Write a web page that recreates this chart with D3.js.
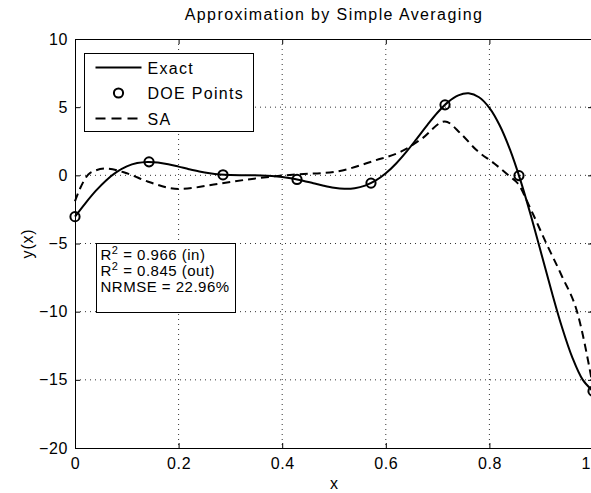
<!DOCTYPE html>
<html>
<head>
<meta charset="utf-8">
<script src="https://cdn.jsdelivr.net/npm/d3@7"></script>
<style>
  body { margin: 0; background: #fff; }
  text { font-family: "Liberation Sans", Arial, Helvetica, sans-serif; fill: #000; }
</style>
</head>
<body>
<div id="root"></div>
<script>
// Exact function samples
var exactX = [0, 0.02, 0.04, 0.06, 0.08, 0.10, 0.12, 0.14, 0.16, 0.18, 0.20, 0.22, 0.24, 0.26, 0.28, 0.30,
  0.32, 0.34, 0.36, 0.38, 0.40, 0.42, 0.44, 0.46, 0.48, 0.50, 0.52, 0.54, 0.56, 0.58, 0.60, 0.62, 0.64,
  0.66, 0.68, 0.70, 0.72, 0.74, 0.76, 0.78, 0.80, 0.82, 0.84, 0.86, 0.88, 0.90, 0.92, 0.94, 0.96, 0.98, 1.00];
var exactY = [-3.027, -2.049, -1.144, -0.371, 0.234, 0.657, 0.900, 0.985, 0.944, 0.816, 0.640, 0.452, 0.282,
  0.149, 0.061, 0.016, 0.001, 0.000, -0.008, -0.042, -0.115, -0.233, -0.392, -0.577, -0.761, -0.909, -0.984,
  -0.945, -0.757, -0.396, 0.149, 0.870, 1.736, 2.698, 3.682, 4.606, 5.369, 5.870, 6.016, 5.728, 4.949, 3.656,
  1.865, -0.367, -2.940, -5.712, -8.506, -11.126, -13.354, -14.987, -15.830];

// DOE sample points
var doeX = [0, 0.1429, 0.2857, 0.4286, 0.5714, 0.7143, 0.8571, 1.0];
var doeY = [-3.03, 0.99, 0.04, -0.30, -0.57, 5.17, -0.02, -15.83];

// Simple averaging surrogate
var saX = [0, 0.01, 0.03, 0.06, 0.10, 0.14, 0.20, 0.28, 0.35, 0.42, 0.50, 0.58, 0.63, 0.67, 0.714,
  0.745, 0.775, 0.81, 0.84, 0.855, 0.88, 0.91, 0.94, 0.97, 1.0];
var saY = [-1.9, -0.95, 0.2, 0.5, 0.15, -0.45, -1.0, -0.6, -0.22, 0.05, 0.25, 1.1, 1.75, 2.7, 3.95,
  3.05, 1.85, 0.85, -0.1, -0.6, -2.5, -5.0, -7.4, -10.1, -15.5];

var xTicks = [0, 0.2, 0.4, 0.6, 0.8, 1];
var yTicks = [10, 5, 0, -5, -10, -15, -20];
var legendLabels = ["Exact", "DOE Points", "SA"];
var stats = [["R", "2", " = 0.966 (in)"], ["R", "2", " = 0.845 (out)"], ["NRMSE = 22.96%", "", ""]];

var W = 591, H = 493;
var margin = { top: 39, right: -2, bottom: 45, left: 75 },
  width = W - margin.left - margin.right,
  height = H - margin.top - margin.bottom;

var svg = d3.select("#root").append("svg")
  .attr("width", W)
  .attr("height", H)
  .style("display", "block");

var g = svg.append("g")
  .attr("transform", "translate(" + margin.left + "," + margin.top + ")");

var x = d3.scaleLinear().domain([0, 1]).range([0, width]);
var y = d3.scaleLinear().domain([-20, 10]).range([height, 0]);

// dotted grid
g.append("g").selectAll("line").data(xTicks.slice(1, -1)).enter().append("line")
  .attr("x1", d => x(d)).attr("x2", d => x(d))
  .attr("y1", 0).attr("y2", height)
  .attr("stroke", "#333").attr("stroke-width", 1).attr("stroke-dasharray", "1,4");
g.append("g").selectAll("line").data(yTicks.slice(1, -1)).enter().append("line")
  .attr("y1", d => y(d)).attr("y2", d => y(d))
  .attr("x1", 0).attr("x2", width)
  .attr("stroke", "#333").attr("stroke-width", 1).attr("stroke-dasharray", "1,4");

// axes (inward ticks, MATLAB style)
var fmtY = d => d < 0 ? "\u2212" + Math.abs(d) : String(d);
var fmtX = d => d === 0 ? "0" : d3.format(".1f")(d);

var xAxis = g.append("g")
  .attr("transform", "translate(0," + height + ")")
  .call(d3.axisBottom(x).tickValues(xTicks).tickFormat(fmtX).tickSizeInner(-5).tickSizeOuter(0).tickPadding(10));
var xTop = g.append("g")
  .call(d3.axisTop(x).tickValues(xTicks).tickFormat("").tickSizeInner(-5).tickSizeOuter(0));
var yAxis = g.append("g")
  .call(d3.axisLeft(y).tickValues(yTicks).tickFormat(fmtY).tickSizeInner(-5).tickSizeOuter(0).tickPadding(7));
var yRight = g.append("g")
  .attr("transform", "translate(" + width + ",0)")
  .call(d3.axisRight(y).tickValues(yTicks).tickFormat("").tickSizeInner(-5).tickSizeOuter(0));

[xAxis, xTop, yAxis, yRight].forEach(function (a) {
  a.select(".domain").attr("stroke", "#000").attr("stroke-width", 1);
  a.selectAll(".tick line").attr("stroke", "#000");
  a.selectAll(".tick text")
    .style("font-family", "'Liberation Sans', Arial, sans-serif")
    .style("font-size", "16px")
    .style("letter-spacing", "0.6px")
    .attr("fill", "#000");
});

// curves
var line = d3.line()
  .x(d => x(d[0]))
  .y(d => y(d[1]))
  .curve(d3.curveMonotoneX);

g.append("path")
  .datum(saX.map((v, i) => [v, saY[i]]))
  .attr("fill", "none").attr("stroke", "#000").attr("stroke-width", 2)
  .attr("stroke-dasharray", "8,5")
  .attr("d", line);

g.append("path")
  .datum(exactX.map((v, i) => [v, exactY[i]]))
  .attr("fill", "none").attr("stroke", "#000").attr("stroke-width", 2)
  .attr("d", d3.line().x(d => x(d[0])).y(d => y(d[1])).curve(d3.curveCatmullRom));

g.selectAll(".doe").data(doeX.map((v, i) => [v, doeY[i]])).enter().append("circle")
  .attr("class", "doe")
  .attr("cx", d => x(d[0])).attr("cy", d => y(d[1]))
  .attr("r", 4.6)
  .attr("fill", "none").attr("stroke", "#000").attr("stroke-width", 2);

// legend
var lg = svg.append("g").attr("transform", "translate(84.5,53.5)");
lg.append("rect").attr("width", 169).attr("height", 78)
  .attr("fill", "#fff").attr("stroke", "#000").attr("stroke-width", 1);
legendLabels.forEach(function (lab, i) {
  var cy = 14 + i * 25.5;
  if (i === 0 || i === 2) {
    lg.append("line").attr("x1", 11).attr("x2", 57).attr("y1", cy).attr("y2", cy)
      .attr("stroke", "#000").attr("stroke-width", 2)
      .attr("stroke-dasharray", i === 2 ? "10,6" : null);
  } else {
    lg.append("circle").attr("cx", 34).attr("cy", cy).attr("r", 4.6)
      .attr("fill", "none").attr("stroke", "#000").attr("stroke-width", 2);
  }
  lg.append("text").attr("x", 63).attr("y", cy + 6)
    .style("font-size", "16px").style("letter-spacing", "1.3px")
    .text(lab);
});

// statistics box
var sb = svg.append("g").attr("transform", "translate(96.5,243.5)");
sb.append("rect").attr("width", 139).attr("height", 69)
  .attr("fill", "#fff").attr("stroke", "#000").attr("stroke-width", 1);
stats.forEach(function (s, i) {
  var t = sb.append("text").attr("x", 4).attr("y", 16 + i * 16)
    .style("font-size", "15px").style("letter-spacing", "0.5px");
  t.append("tspan").text(s[0]);
  if (s[1]) {
    t.append("tspan").attr("dy", -6).style("font-size", "11px").text(s[1]);
    t.append("tspan").attr("dy", 6).text(s[2]);
  }
});

// title and axis labels
svg.append("text")
  .attr("x", margin.left + width / 2).attr("y", 20)
  .attr("text-anchor", "middle")
  .style("font-size", "16px").style("letter-spacing", "1.4px")
  .text("Approximation by Simple Averaging");

svg.append("text")
  .attr("x", margin.left + width / 2).attr("y", 489)
  .attr("text-anchor", "middle")
  .style("font-size", "16px")
  .text("x");

svg.append("text")
  .attr("transform", "translate(33," + (margin.top + height / 2) + ") rotate(-90)")
  .attr("text-anchor", "middle")
  .style("font-size", "16px").style("letter-spacing", "0.8px")
  .text("y(x)");
</script>
</body>
</html>
